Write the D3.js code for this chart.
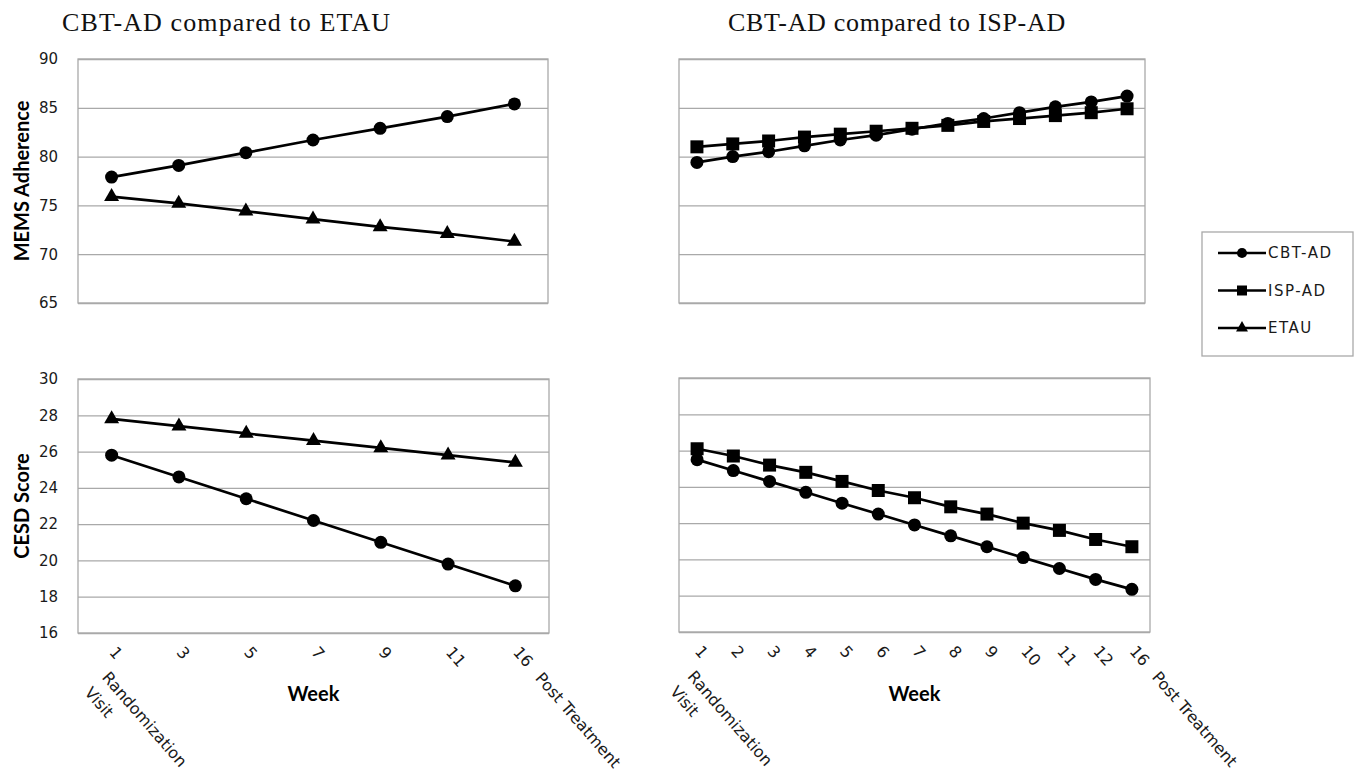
<!DOCTYPE html>
<html>
<head>
<meta charset="utf-8">
<script src="https://cdn.jsdelivr.net/npm/d3@7"></script>
<style>
  body { margin: 0; background: #fff; }
  svg { display: block; }
</style>
</head>
<body>
<div id="chart"></div>
<script>
// week categories
var weeksEtau = ["1", "3", "5", "7", "9", "11", "16"];
var weeksIsp = ["1", "2", "3", "4", "5", "6", "7", "8", "9", "10", "11", "12", "16"];

var memsTicks = [65, 70, 75, 80, 85, 90];
var cesdTicks = [16, 18, 20, 22, 24, 26, 28, 30];

// MEMS adherence (top row)
var memsCbtVsEtau = [77.9, 79.1, 80.4, 81.7, 82.9, 84.1, 85.4];
var memsEtau = [75.9, 75.2, 74.4, 73.6, 72.8, 72.1, 71.3];
var memsCbtVsIsp = [79.4, 80.0, 80.5, 81.1, 81.7, 82.2, 82.8, 83.4, 83.9, 84.5, 85.1, 85.6, 86.2];
var memsIsp = [81.0, 81.3, 81.6, 82.0, 82.3, 82.6, 82.9, 83.2, 83.6, 83.9, 84.2, 84.5, 84.9];

// CESD score (bottom row)
var cesdCbtVsEtau = [25.8, 24.6, 23.4, 22.2, 21.0, 19.8, 18.6];
var cesdEtau = [27.8, 27.4, 27.0, 26.6, 26.2, 25.8, 25.4];
var cesdCbtVsIsp = [25.5, 24.9, 24.3, 23.7, 23.1, 22.5, 21.9, 21.3, 20.7, 20.1, 19.5, 18.9, 18.35];
var cesdIsp = [26.1, 25.7, 25.2, 24.8, 24.3, 23.8, 23.4, 22.9, 22.5, 22.0, 21.6, 21.1, 20.7];

var legendNames = ["CBT-AD", "ISP-AD", "ETAU"];
var titles = ["CBT-AD compared to ETAU", "CBT-AD compared to ISP-AD"];
var firstExtra = ["Randomization", "Visit"];
var lastExtra = "Post Treatment";

var width = 1357, height = 781;
var gridColor = "#a9a9a9";
var tickFont = "'DejaVu Sans', Verdana, sans-serif";
var boldFont = "Lato, 'Open Sans', sans-serif";

var symbolOf = {"CBT-AD": d3.symbolCircle, "ISP-AD": d3.symbolSquare, "ETAU": d3.symbolTriangle};
var sizeOf = {"CBT-AD": 133, "ISP-AD": 169, "ETAU": 97};
var legendSize = {"CBT-AD": 80, "ISP-AD": 100, "ETAU": 62};

var panels = [
  {x0: 78, x1: 548, y0: 59, y1: 303, weeks: weeksEtau, ticks: memsTicks, yTitle: "MEMS Adherence", labels: true,
   series: [{name: "CBT-AD", values: memsCbtVsEtau}, {name: "ETAU", values: memsEtau}]},
  {x0: 679, x1: 1145, y0: 59, y1: 303, weeks: weeksIsp, ticks: memsTicks, labels: false,
   series: [{name: "ISP-AD", values: memsIsp}, {name: "CBT-AD", values: memsCbtVsIsp}]},
  {x0: 78, x1: 549, y0: 379, y1: 633, weeks: weeksEtau, ticks: cesdTicks, yTitle: "CESD Score", labels: true, xAxis: true,
   series: [{name: "CBT-AD", values: cesdCbtVsEtau}, {name: "ETAU", values: cesdEtau}]},
  {x0: 679, x1: 1150, y0: 378, y1: 632, weeks: weeksIsp, ticks: cesdTicks, labels: false, xAxis: true,
   series: [{name: "ISP-AD", values: cesdIsp}, {name: "CBT-AD", values: cesdCbtVsIsp}]}
];

var svg = d3.select("#chart")
  .append("svg")
  .attr("width", width)
  .attr("height", height);

svg.append("rect").attr("width", width).attr("height", height).attr("fill", "#fff");

// column titles
svg.selectAll(".colTitle")
  .data(titles)
  .enter()
  .append("text")
  .attr("class", "colTitle")
  .attr("x", function(d, i) { return i == 0 ? 62 : 728; })
  .attr("y", 31)
  .style("font-family", "'Liberation Serif', 'Times New Roman', serif")
  .style("font-size", "26px")
  .style("letter-spacing", function(d, i) { return i == 0 ? "1.1px" : "0.7px"; })
  .attr("fill", "#111")
  .text(function(d) { return d; });

function draw_panel(p) {
  var x = d3.scalePoint()
    .domain(p.weeks)
    .range([p.x0, p.x1])
    .padding(0.5);

  var y = d3.scaleLinear()
    .domain(d3.extent(p.ticks))
    .range([p.y1, p.y0]);

  var g = svg.append("g");

  g.append("rect")
    .attr("x", p.x0).attr("y", p.y0)
    .attr("width", p.x1 - p.x0).attr("height", p.y1 - p.y0)
    .attr("fill", "#fff")
    .attr("stroke", gridColor)
    .attr("stroke-width", 1.3);

  // horizontal gridlines
  var yAxis = d3.axisLeft(y)
    .tickValues(p.ticks)
    .tickSize(-(p.x1 - p.x0))
    .tickPadding(20)
    .tickFormat(p.labels ? d3.format("d") : "");

  var ya = g.append("g")
    .attr("transform", "translate(" + p.x0 + ",0)")
    .call(yAxis);
  ya.select(".domain").remove();
  ya.selectAll("line").attr("stroke", gridColor).attr("stroke-width", 1.3);
  ya.selectAll("text")
    .attr("x", -20)
    .style("font-family", tickFont)
    .style("font-size", "15px")
    .attr("fill", "#1a1a1a");

  if (p.yTitle) {
    g.append("text")
      .attr("transform", "translate(22," + ((p.y0 + p.y1) / 2) + ") rotate(-90)")
      .attr("text-anchor", "middle")
      .attr("dy", "0.35em")
      .style("font-family", boldFont)
      .style("font-weight", "bold")
      .style("font-size", "20px")
      .attr("fill", "#000")
      .text(p.yTitle);
  }

  var line = d3.line()
    .x(function(d, i) { return x(p.weeks[i]); })
    .y(function(d) { return y(d); });

  p.series.forEach(function(s) {
    g.append("path")
      .datum(s.values)
      .attr("d", line)
      .attr("fill", "none")
      .attr("stroke", "#000")
      .attr("stroke-width", 2.7);

    g.selectAll(null)
      .data(s.values)
      .enter()
      .append("path")
      .attr("transform", function(d, i) { return "translate(" + x(p.weeks[i]) + "," + y(d) + ")"; })
      .attr("d", d3.symbol().type(symbolOf[s.name]).size(sizeOf[s.name]))
      .attr("fill", "#000");
  });

  if (p.xAxis) {
    var last = p.weeks.length - 1;
    var labels = g.selectAll(".wk")
      .data(p.weeks)
      .enter()
      .append("text")
      .attr("class", "wk")
      .attr("transform", function(d) { return "translate(" + (x(d) + 6) + "," + (p.y1 + 12) + ") rotate(49)"; })
      .style("font-family", tickFont)
      .style("font-size", "16px")
      .attr("fill", "#1a1a1a");

    labels.append("tspan")
      .attr("x", 0).attr("y", 12)
      .text(function(d) { return d; });

    labels.filter(function(d, i) { return i == last; })
      .append("tspan")
      .attr("x", 34).attr("y", 12)
      .text(lastExtra);

    var firstLabel = labels.filter(function(d, i) { return i == 0; });
    firstExtra.forEach(function(t, k) {
      firstLabel.append("tspan")
        .attr("x", 14)
        .attr("y", 34 + k * 23)
        .text(t);
    });

    g.append("text")
      .attr("x", (p.x0 + p.x1) / 2)
      .attr("y", 701)
      .attr("text-anchor", "middle")
      .style("font-family", boldFont)
      .style("font-weight", "bold")
      .style("font-size", "20px")
      .attr("fill", "#000")
      .text("Week");
  }
}

panels.forEach(draw_panel);

// legend
var legend = svg.append("g");
legend.append("rect")
  .attr("x", 1202).attr("y", 232)
  .attr("width", 151).attr("height", 124)
  .attr("fill", "#fff")
  .attr("stroke", gridColor)
  .attr("stroke-width", 1.3);

var ly = d3.scalePoint().domain(legendNames).range([253, 328]);

var items = legend.selectAll(".item")
  .data(legendNames)
  .enter()
  .append("g")
  .attr("transform", function(d) { return "translate(0," + ly(d) + ")"; });

items.append("line")
  .attr("x1", 1218).attr("x2", 1266)
  .attr("stroke", "#000")
  .attr("stroke-width", 2.7);

items.append("path")
  .attr("transform", "translate(1242,0)")
  .attr("d", function(d) { return d3.symbol().type(symbolOf[d]).size(legendSize[d])(); })
  .attr("fill", "#000");

items.append("text")
  .attr("x", 1268)
  .attr("dy", "0.36em")
  .style("font-family", tickFont)
  .style("font-size", "15px")
  .style("letter-spacing", "1.5px")
  .attr("fill", "#1a1a1a")
  .text(function(d) { return d; });
</script>
</body>
</html>
